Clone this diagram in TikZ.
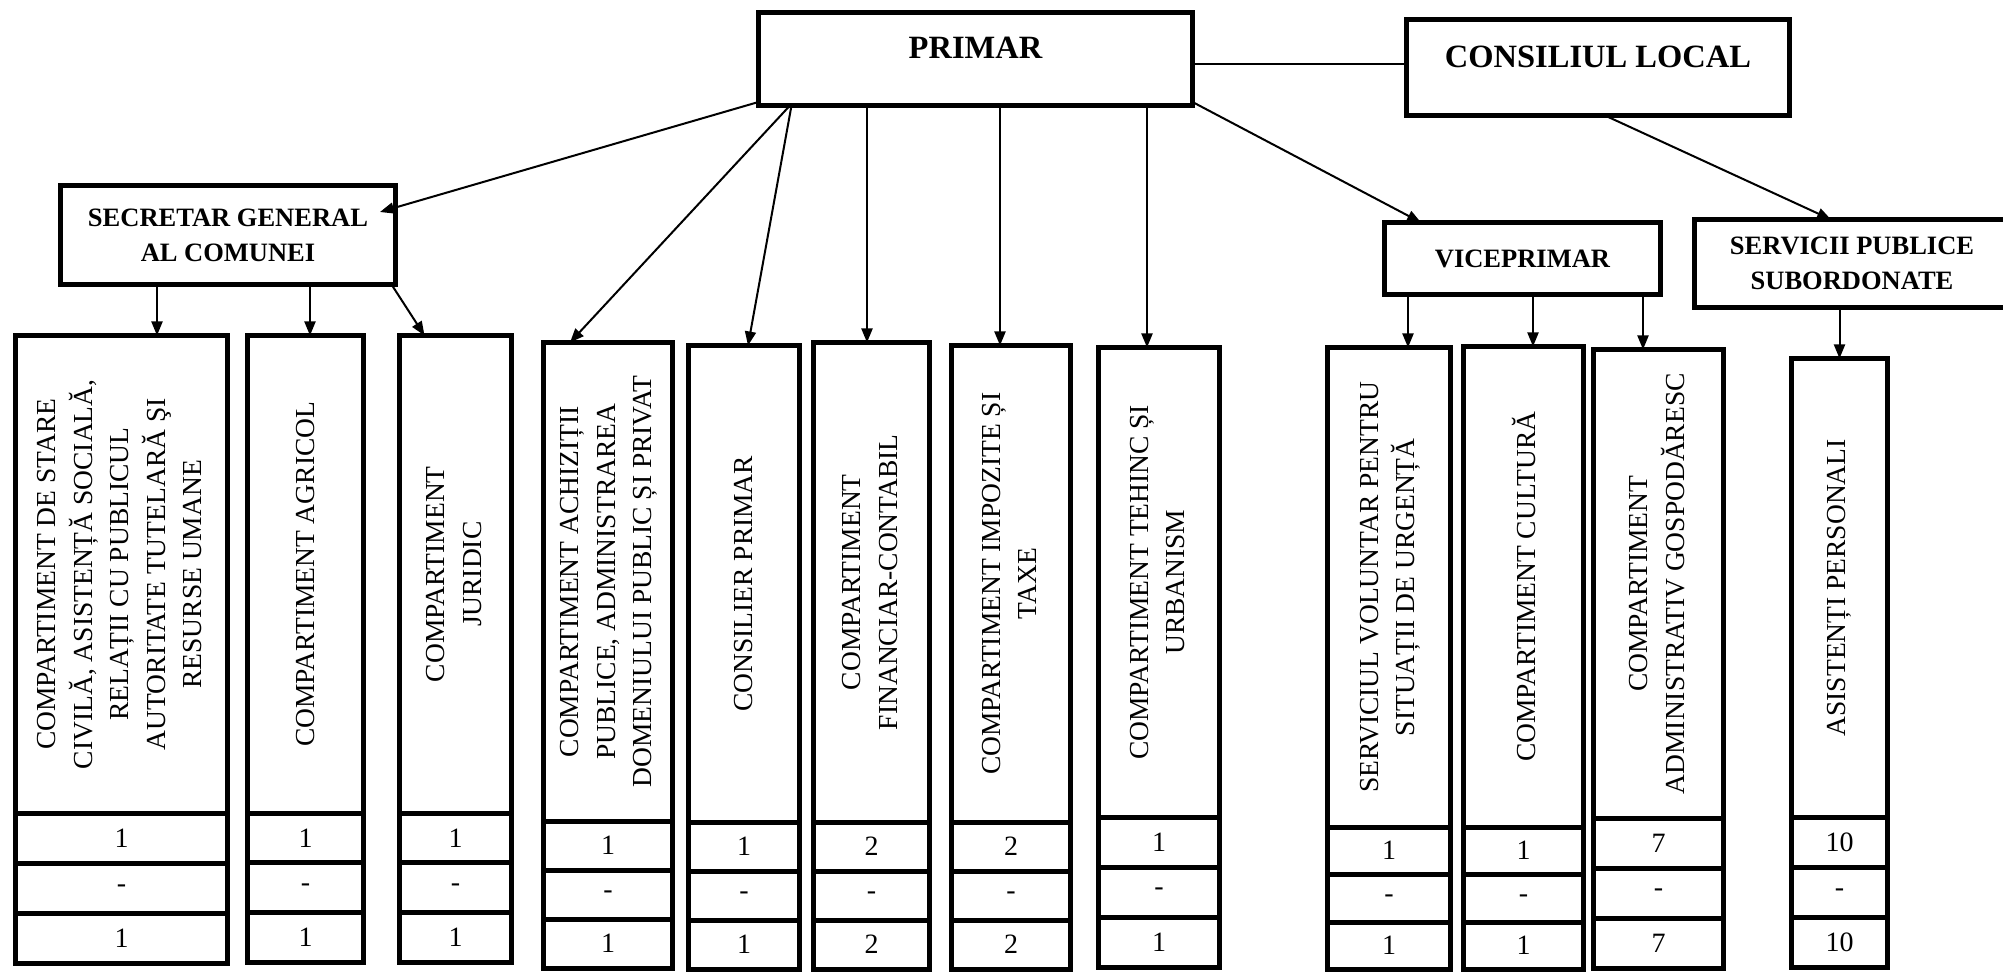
\documentclass[tikz,border=0pt]{standalone}
\usepackage{fontspec}
\setmainfont{Liberation Serif}
\usetikzlibrary{arrows.meta,positioning}

\begin{document}
\begin{tikzpicture}[x=1pt,y=-1pt,
    box/.style={draw, line width=5pt, outer sep=0pt, inner sep=0pt},
    topbox/.style={box, align=center, font=\fontsize{26.5}{35}\selectfont\bfseries},
    bigbox/.style={box, font=\fontsize{32.5}{36}\selectfont\bfseries, text depth=22pt},
    colbox/.style={box, font=\fontsize{27.5}{36.5}\selectfont},
    numbox/.style={box, font=\fontsize{28}{30}\selectfont},
    link/.style={line width=2pt, -{Triangle[length=14pt,width=11pt]}}]

\useasboundingbox (0,0) rectangle (2003,973);

\node[bigbox, minimum width=434, minimum height=93] (primar) at (975.5,59) {PRIMAR};
\node[bigbox, minimum width=383, minimum height=96] (consiliu) at (1598,67.5) {CONSILIUL LOCAL};
\node[topbox, minimum width=335, minimum height=99] (secretar) at (228,235) {SECRETAR GENERAL\\AL COMUNEI};
\node[topbox, minimum width=276, minimum height=72] (vice) at (1522.5,258.5) {VICEPRIMAR};
\node[topbox, minimum width=315, minimum height=88] (servicii) at (1852,263.5) {SERVICII PUBLICE\\SUBORDONATE};

\node[colbox, minimum width=212, minimum height=477.5] (c1) at (121.5,574.25) {\rotatebox{90}{\begin{tabular}{@{}c@{}}COMPARTIMENT DE STARE\\CIVILĂ, ASISTENȚĂ SOCIALĂ,\\RELAȚII CU PUBLICUL\\AUTORITATE TUTELARĂ ŞI\\RESURSE UMANE\end{tabular}}};
\node[numbox, minimum width=212, minimum height=50.3, below=0pt of c1] (c1a) {1};
\node[numbox, minimum width=212, minimum height=50.3, below=0pt of c1a] (c1b) {-};
\node[numbox, minimum width=212, minimum height=50.3, below=0pt of c1b] (c1c) {1};

\node[colbox, minimum width=116, minimum height=477.5] (c2) at (305.5,574.25) {\rotatebox{90}{COMPARTIMENT AGRICOL}};
\node[numbox, minimum width=116, minimum height=49.7, below=0pt of c2] (c2a) {1};
\node[numbox, minimum width=116, minimum height=49.7, below=0pt of c2a] (c2b) {-};
\node[numbox, minimum width=116, minimum height=49.7, below=0pt of c2b] (c2c) {1};

\node[colbox, minimum width=112, minimum height=477.5] (c3) at (455.5,574.25) {\rotatebox{90}{\begin{tabular}{@{}c@{}}COMPARTIMENT\\JURIDIC\end{tabular}}};
\node[numbox, minimum width=112, minimum height=49.7, below=0pt of c3] (c3a) {1};
\node[numbox, minimum width=112, minimum height=49.7, below=0pt of c3a] (c3b) {-};
\node[numbox, minimum width=112, minimum height=49.7, below=0pt of c3b] (c3c) {1};

\node[colbox, minimum width=129, minimum height=478.5] (c4) at (608,581.75) {\rotatebox{90}{\begin{tabular}{@{}c@{}}COMPARTIMENT ACHIZIȚII\\PUBLICE, ADMINISTRAREA\\DOMENIULUI PUBLIC ȘI PRIVAT\end{tabular}}};
\node[numbox, minimum width=129, minimum height=49, below=0pt of c4] (c4a) {1};
\node[numbox, minimum width=129, minimum height=49, below=0pt of c4a] (c4b) {-};
\node[numbox, minimum width=129, minimum height=49, below=0pt of c4b] (c4c) {1};

\node[colbox, minimum width=111, minimum height=476.5] (c5) at (744,583.75) {\rotatebox{90}{CONSILIER PRIMAR}};
\node[numbox, minimum width=111, minimum height=49, below=0pt of c5] (c5a) {1};
\node[numbox, minimum width=111, minimum height=49, below=0pt of c5a] (c5b) {-};
\node[numbox, minimum width=111, minimum height=49, below=0pt of c5b] (c5c) {1};

\node[colbox, minimum width=116, minimum height=479.5] (c6) at (871.5,582.25) {\rotatebox{90}{\begin{tabular}{@{}c@{}}COMPARTIMENT\\FINANCIAR-CONTABIL\end{tabular}}};
\node[numbox, minimum width=116, minimum height=49, below=0pt of c6] (c6a) {2};
\node[numbox, minimum width=116, minimum height=49, below=0pt of c6a] (c6b) {-};
\node[numbox, minimum width=116, minimum height=49, below=0pt of c6b] (c6c) {2};

\node[colbox, minimum width=119, minimum height=476.5] (c7) at (1011,583.75) {\rotatebox{90}{\begin{tabular}{@{}c@{}}COMPARTIMENT IMPOZITE ȘI\\TAXE\end{tabular}}};
\node[numbox, minimum width=119, minimum height=49, below=0pt of c7] (c7a) {2};
\node[numbox, minimum width=119, minimum height=49, below=0pt of c7a] (c7b) {-};
\node[numbox, minimum width=119, minimum height=49, below=0pt of c7b] (c7c) {2};

\node[colbox, minimum width=121, minimum height=469.5] (c8) at (1159,582.25) {\rotatebox{90}{\begin{tabular}{@{}c@{}}COMPARTIMENT TEHINC ȘI\\URBANISM\end{tabular}}};
\node[numbox, minimum width=121, minimum height=50, below=0pt of c8] (c8a) {1};
\node[numbox, minimum width=121, minimum height=50, below=0pt of c8a] (c8b) {-};
\node[numbox, minimum width=121, minimum height=50, below=0pt of c8b] (c8c) {1};

\node[colbox, minimum width=123, minimum height=479.5] (c9) at (1389,587.25) {\rotatebox{90}{\begin{tabular}{@{}c@{}}SERVICIUL VOLUNTAR PENTRU\\SITUAȚII DE URGENȚĂ\end{tabular}}};
\node[numbox, minimum width=123, minimum height=47.5, below=0pt of c9] (c9a) {1};
\node[numbox, minimum width=123, minimum height=47.5, below=0pt of c9a] (c9b) {-};
\node[numbox, minimum width=123, minimum height=47.5, below=0pt of c9b] (c9c) {1};

\node[colbox, minimum width=120, minimum height=480.5] (c10) at (1523.5,586.75) {\rotatebox{90}{COMPARTIMENT CULTURĂ}};
\node[numbox, minimum width=120, minimum height=47.5, below=0pt of c10] (c10a) {1};
\node[numbox, minimum width=120, minimum height=47.5, below=0pt of c10a] (c10b) {-};
\node[numbox, minimum width=120, minimum height=47.5, below=0pt of c10b] (c10c) {1};

\node[colbox, minimum width=130, minimum height=468.5] (c11) at (1658.5,583.75) {\rotatebox{90}{\begin{tabular}{@{}c@{}}COMPARTIMENT\\ADMINISTRATIV GOSPODĂRESC\end{tabular}}};
\node[numbox, minimum width=130, minimum height=50, below=0pt of c11] (c11a) {7};
\node[numbox, minimum width=130, minimum height=50, below=0pt of c11a] (c11b) {-};
\node[numbox, minimum width=130, minimum height=50, below=0pt of c11b] (c11c) {7};

\node[colbox, minimum width=96, minimum height=458.5] (c12) at (1839.5,587.75) {\rotatebox{90}{ASISTENȚI PERSONALI}};
\node[numbox, minimum width=96, minimum height=50.3, below=0pt of c12] (c12a) {10};
\node[numbox, minimum width=96, minimum height=50.3, below=0pt of c12a] (c12b) {-};
\node[numbox, minimum width=96, minimum height=50.3, below=0pt of c12b] (c12c) {10};

\draw[line width=2pt] (primar.east |- 0,64) -- (consiliu.west |- 0,64);
\draw[link] ([yshift=-43]primar.west) -- ([xshift=-15.5,yshift=23]secretar.east);
\draw[link] ([xshift=31.5]primar.south west) -- ([xshift=26.5]c4.north west);
\draw[link] ([xshift=33]primar.south west) -- ([xshift=4]c5.north);
\draw[link] ([xshift=-4.5]primar.south -| c6.north) -- ([xshift=-4.5]c6.north);
\draw[link] ([xshift=-11]primar.south -| c7.north) -- ([xshift=-11]c7.north);
\draw[link] ([xshift=-12]primar.south -| c8.north) -- ([xshift=-12]c8.north);
\draw[link] ([yshift=-43]primar.east) -- ([xshift=36.5]vice.north west);
\draw[link] ([xshift=7]consiliu.south) -- ([xshift=-21]servicii.north);

\draw[link] ([xshift=35.5]secretar.south -| c1.north) -- ([xshift=35.5]c1.north);
\draw[link] ([xshift=4.5]secretar.south -| c2.north) -- ([xshift=4.5]c2.north);
\draw[link] ([xshift=-4]secretar.south east) -- ([xshift=25]c3.north west);

\draw[link] ([xshift=19]vice.south -| c9.north) -- ([xshift=19]c9.north);
\draw[link] ([xshift=9.5]vice.south -| c10.north) -- ([xshift=9.5]c10.north);
\draw[link] ([xshift=-15.5]vice.south -| c11.north) -- ([xshift=-15.5]c11.north);
\draw[link] (servicii.south -| c12.north) -- (c12.north);
\end{tikzpicture}
\end{document}
